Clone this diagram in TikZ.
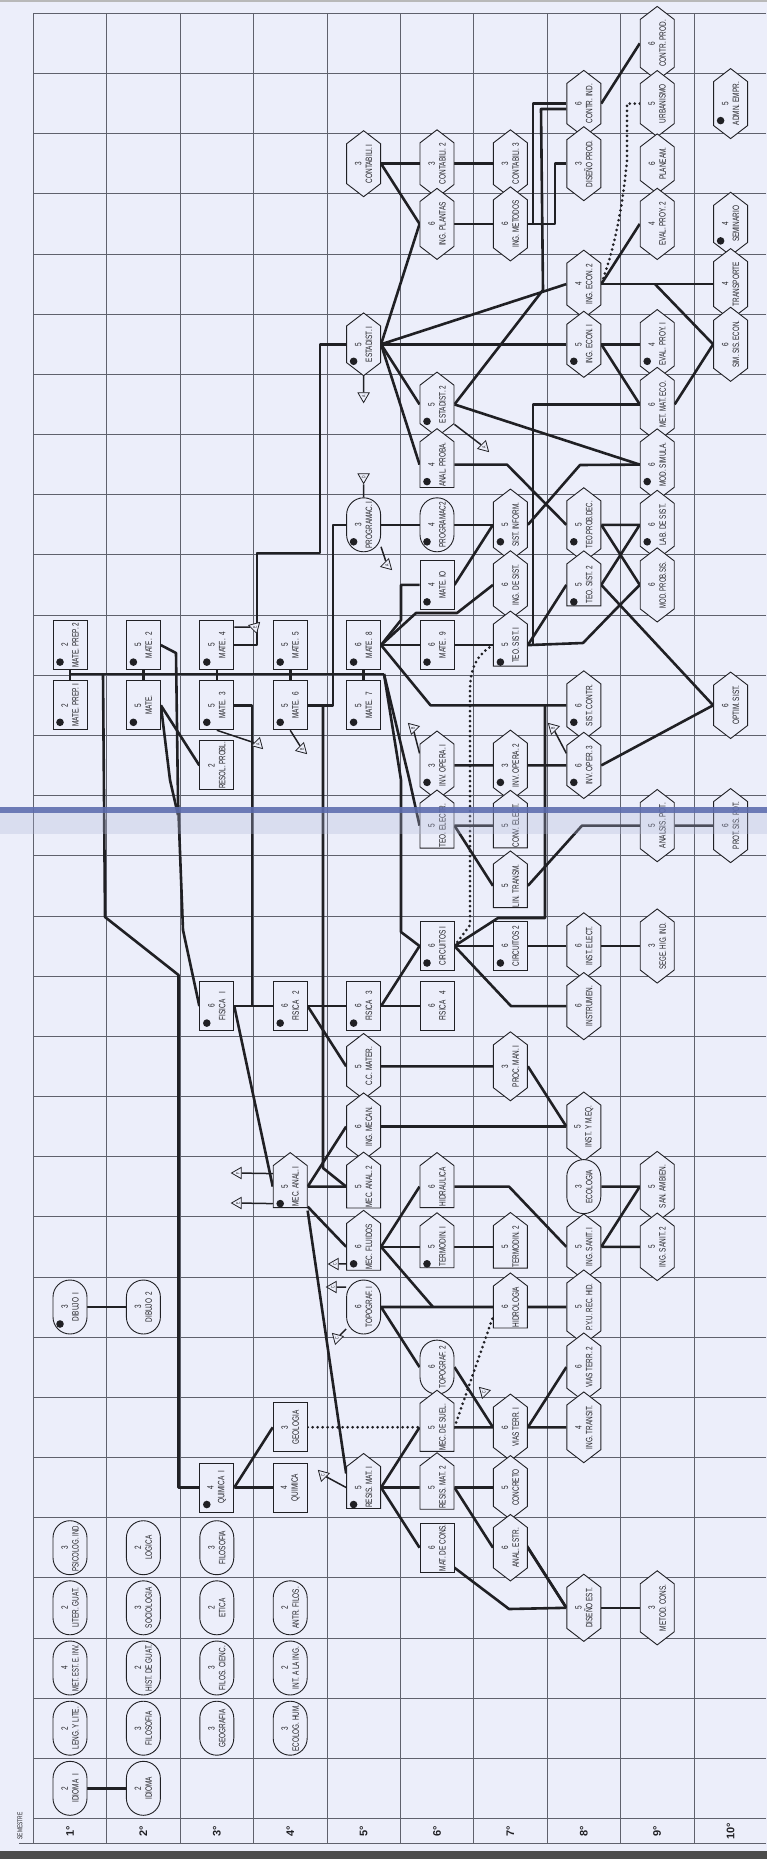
\documentclass[tikz,border=0pt]{standalone}
\usepackage{fontspec}
\setmainfont{Liberation Sans}
\newfontfamily\nodefont{Liberation Sans}[FakeStretch=0.7]
\usetikzlibrary{shapes.symbols,shapes.misc,shapes.geometric,calc}
\definecolor{bgc}{RGB}{236,238,250}
\definecolor{ink}{RGB}{32,32,36}
\definecolor{gridc}{RGB}{95,97,108}
\definecolor{stripec}{RGB}{95,110,175}
\definecolor{stripel}{RGB}{175,182,215}
\pgfdeclarelayer{grid}\pgfdeclarelayer{conn}
\pgfsetlayers{grid,conn,main}
\newsavebox\lblbox
\newcommand\fitw[1]{\sbox\lblbox{#1}\ifdim\wd\lblbox>47pt\resizebox{47pt}{\height}{\usebox\lblbox}\else\usebox\lblbox\fi}
\newcommand\cL[2]{#1\\\fitw{#2}}
\tikzset{
 crs/.style={draw=ink, line width=0.9pt, fill=bgc, rotate=90, align=center,
   font=\nodefont\fontsize{9.2}{10.8}\selectfont, text=ink, inner sep=0.5pt, minimum height=34pt},
 hexa/.style={crs, signal, signal to=east and west, signal pointer angle=105, minimum width=57pt},
 penta/.style={crs, signal, signal to=east, signal pointer angle=105, minimum width=55pt},
 rct/.style={crs, rectangle, minimum width=49pt},
 pill/.style={crs, rounded rectangle, minimum width=55pt},
 cn/.style={draw=ink, line width=2.6pt, line join=round},
 dotl/.style={draw=ink, line width=3pt, dash pattern=on 0pt off 5pt, line cap=round},
 mk/.style={regular polygon, regular polygon sides=3, draw=ink, fill=bgc, line width=0.8pt,
   inner sep=0pt, minimum size=13pt, rotate=90, font=\nodefont\fontsize{5}{5}\selectfont, text=ink},
 stem/.style={draw=ink, line width=1.5pt},
 seml/.style={rotate=90, font=\bfseries\fontsize{11}{11}\selectfont, text=ink},
}
\begin{document}
\begin{tikzpicture}[x=1pt,y=-1pt]
\useasboundingbox (0,0) rectangle (767,1859);
\begin{pgfonlayer}{grid}
\fill[bgc] (0,0) rectangle (767,1859);
\fill[gray!55] (0,0) rectangle (767,2.5);
\fill[gray!60!black] (0,1851) rectangle (767,1859);
\foreach \k in {0,...,10} \draw[gridc, line width=0.7pt] ({33.3+73.4*\k},13.3) -- ({33.3+73.4*\k},1843);
\foreach \k in {0,...,30} \draw[gridc, line width=0.7pt] (33.3,{13.3+60.17*\k}) -- (765.5,{13.3+60.17*\k});
\draw[gridc, line width=0.9pt] (19,1843) -- (765.5,1843);
\end{pgfonlayer}

% ---------- courses ----------
\node[hexa] (cprod) at (657.2,43.4) {\cL{6}{CONTR. PROD.}};
\node[hexa] (cind) at (583.8,103.6) {\cL{6}{CONTR. IND.}};
\node[hexa] (urb) at (657.2,103.6) {\cL{5}{URBANISMO}};
\node[hexa] (adm) at (730.6,103.6) {\cL{5}{ADMN. EMPR.}};
\node[hexa] (con1) at (363.6,163.7) {\cL{3}{CONTABILI. I}};
\node[hexa] (con2) at (437,163.7) {\cL{3}{CONTABILI. 2}};
\node[hexa] (con3) at (510.4,163.7) {\cL{3}{CONTABILI. 3}};
\node[hexa] (dprod) at (583.8,163.7) {\cL{3}{DISEÑO PROD.}};
\node[hexa] (plan) at (657.2,163.7) {\cL{6}{PLANEAM.}};
\node[hexa] (iplan) at (437,223.9) {\cL{6}{ING. PLANTAS}};
\node[hexa] (imet) at (510.4,223.9) {\cL{6}{ING. METODOS}};
\node[hexa] (ep2) at (657.2,223.9) {\cL{4}{EVAL. PROY. 2}};
\node[hexa] (sem) at (730.6,223.9) {\cL{4}{SEMINARIO}};
\node[hexa] (iec2) at (583.8,284.1) {\cL{4}{ING. ECON. 2}};
\node[hexa] (trans) at (730.6,284.1) {\cL{4}{TRANSPORTE}};
\node[hexa] (est1) at (363.6,344.3) {\cL{5}{ESTADIST. I}};
\node[hexa] (iec1) at (583.8,344.3) {\cL{5}{ING. ECON. I}};
\node[hexa] (ep1) at (657.2,344.3) {\cL{4}{EVAL. PROY. I}};
\node[hexa] (sse) at (730.6,344.3) {\cL{6}{SIM. SIS. ECON.}};
\node[hexa] (est2) at (437,404.4) {\cL{5}{ESTADIST. 2}};
\node[hexa] (mme) at (657.2,404.4) {\cL{6}{MET. MAT. ECO.}};
\node[penta] (aprob) at (437,464.6) {\cL{4}{ANAL. PROBA.}};
\node[hexa] (msim) at (657.2,464.6) {\cL{6}{MOD. SIMULA.}};
\node[pill] (prog1) at (363.6,524.8) {\cL{3}{PROGRAMAC. I}};
\node[pill] (prog2) at (437,524.8) {\cL{4}{PROGRAMAC2}};
\node[hexa] (sinf) at (510.4,524.8) {\cL{5}{SIST. INFORM.}};
\node[hexa] (tpd) at (583.8,524.8) {\cL{5}{TEO.PROB.DEC.}};
\node[hexa] (lab) at (657.2,524.8) {\cL{6}{LAB. DE SIST.}};
\node[rct] (mio) at (437,584.9) {\cL{4}{MATE. IO}};
\node[hexa] (isis) at (510.4,584.9) {\cL{6}{ING. DE SIST.}};
\node[penta] (ts2) at (583.8,584.9) {\cL{5}{TEO. SIST. 2}};
\node[hexa] (mps) at (657.2,584.9) {\cL{6}{MOD. PROB.SIS.}};
\node[rct] (mp2) at (70,645.1) {\cL{2}{MATE. PREP. 2}};
\node[rct] (m2) at (143.4,645.1) {\cL{5}{MATE.~~2}};
\node[rct] (m4) at (216.8,645.1) {\cL{5}{MATE.~~4}};
\node[rct] (m5) at (290.2,645.1) {\cL{5}{MATE.~~5}};
\node[rct] (m8) at (363.6,645.1) {\cL{6}{MATE.~~8}};
\node[rct] (m9) at (437,645.1) {\cL{6}{MATE.~~9}};
\node[penta] (ts1) at (510.4,645.1) {\cL{5}{TEO. SIST. I}};
\node[rct] (mp1) at (70,705.3) {\cL{2}{MATE. PREP. I}};
\node[rct] (m1) at (143.4,705.3) {\cL{5}{MATE.}};
\node[rct] (m3) at (216.8,705.3) {\cL{5}{MATE.~~3}};
\node[rct] (m6) at (290.2,705.3) {\cL{5}{MATE.~~6}};
\node[rct] (m7) at (363.6,705.3) {\cL{5}{MATE.~~7}};
\node[hexa] (scon) at (583.8,705.3) {\cL{6}{SIST. CONTR.}};
\node[hexa] (opt) at (730.6,705.3) {\cL{6}{OPTIM. SIST.}};
\node[rct] (resol) at (216.8,765.4) {\cL{2}{RESOL. PROBL.}};
\node[hexa] (io1) at (437,765.4) {\cL{3}{INV. OPERA. I}};
\node[hexa] (io2) at (510.4,765.4) {\cL{3}{INV. OPERA. 2}};
\node[hexa] (io3) at (583.8,765.4) {\cL{6}{INV. OPER. 3}};
\node[penta] (tel) at (437,825.6) {\cL{5}{TEO. ELECTR.}};
\node[penta] (cel) at (510.4,825.6) {\cL{5}{CONV. ELECT.}};
\node[hexa] (apot) at (657.2,825.6) {\cL{5}{ANALSIS. POT.}};
\node[hexa] (ppot) at (730.6,825.6) {\cL{6}{PROT. SIS. POT.}};
\node[penta] (lin) at (510.4,885.8) {\cL{5}{LIN. TRANSM.}};
\node[rct] (cir1) at (437,946) {\cL{6}{CIRCUITOS I}};
\node[rct] (cir2) at (510.4,946) {\cL{6}{CIRCUITOS 2}};
\node[hexa] (iel) at (583.8,946) {\cL{6}{INST. ELECT.}};
\node[hexa] (seg) at (657.2,946) {\cL{3}{SEGE. HIG. IND.}};
\node[rct] (f1) at (216.8,1006.1) {\cL{6}{FISICA~~~I}};
\node[rct] (f2) at (290.2,1006.1) {\cL{6}{FISICA~~~2}};
\node[rct] (f3) at (363.6,1006.1) {\cL{6}{FISICA~~~3}};
\node[rct] (f4) at (437,1006.1) {\cL{6}{FISICA~~~4}};
\node[hexa] (instr) at (583.8,1006.1) {\cL{6}{INSTRUMEN.}};
\node[hexa] (ccm) at (363.6,1066.3) {\cL{5}{C.C. MATER.}};
\node[hexa] (pman) at (510.4,1066.3) {\cL{3}{PROC. MAN. I}};
\node[hexa] (imec) at (363.6,1126.5) {\cL{6}{ING. MECAN.}};
\node[hexa] (iyme) at (583.8,1126.5) {\cL{5}{INST. Y M.EQ.}};
\node[penta] (ma1) at (290.2,1186.6) {\cL{5}{MEC. ANAL. I}};
\node[penta] (ma2) at (363.6,1186.6) {\cL{5}{MEC. ANAL. 2}};
\node[penta] (hidra) at (437,1186.6) {\cL{6}{HIDRAULICA}};
\node[pill] (eco) at (583.8,1186.6) {\cL{3}{ECOLOGIA}};
\node[hexa] (san) at (657.2,1186.6) {\cL{5}{SAN. AMBIEN.}};
\node[penta] (mfl) at (363.6,1246.8) {\cL{6}{MEC. FLUIDOS}};
\node[penta] (td1) at (437,1246.8) {\cL{5}{TERMODIN. I}};
\node[penta] (td2) at (510.4,1246.8) {\cL{5}{TERMODIN. 2}};
\node[hexa] (isan1) at (583.8,1246.8) {\cL{5}{ING. SANIT. I}};
\node[hexa] (isan2) at (657.2,1246.8) {\cL{5}{ING. SANIT. 2}};
\node[pill] (dib1) at (70,1307) {\cL{3}{DIBUJO~~I}};
\node[pill] (dib2) at (143.4,1307) {\cL{3}{DIBUJO~~2}};
\node[pill] (top1) at (363.6,1307) {\cL{6}{TOPOGRAF. I}};
\node[penta] (hidro) at (510.4,1307) {\cL{6}{HIDROLOGIA}};
\node[hexa] (pyu) at (583.8,1307) {\cL{5}{P.Y.U. REC. HID.}};
\node[pill] (top2) at (437,1367.1) {\cL{6}{TOPOGRAF. 2}};
\node[hexa] (vt2) at (583.8,1367.1) {\cL{6}{VIAS TERR. 2}};
\node[rct] (geo) at (290.2,1427.3) {\cL{3}{GEOLOGIA}};
\node[penta] (msuel) at (437,1427.3) {\cL{5}{MEC. DE SUEL.}};
\node[hexa] (vt1) at (510.4,1427.3) {\cL{6}{VIAS TERR. I}};
\node[hexa] (itr) at (583.8,1427.3) {\cL{4}{ING. TRANSIT.}};
\node[rct] (q1) at (216.8,1487.5) {\cL{4}{QUIMICA~~I}};
\node[rct] (q) at (290.2,1487.5) {\cL{4}{QUIMICA}};
\node[penta] (rm1) at (363.6,1487.5) {\cL{5}{RESIS. MAT. I}};
\node[penta] (rm2) at (437,1487.5) {\cL{5}{RESIS. MAT. 2}};
\node[hexa] (conc) at (510.4,1487.5) {\cL{5}{CONCRETO}};
\node[pill] (psi) at (70,1547.7) {\cL{3}{PSICOLOG. IND.}};
\node[pill] (logi) at (143.4,1547.7) {\cL{2}{LOGICA}};
\node[pill] (fil3) at (216.8,1547.7) {\cL{3}{FILOSOFIA}};
\node[rct] (mcons) at (437,1547.7) {\cL{6}{MAT. DE CONS.}};
\node[hexa] (aestr) at (510.4,1547.7) {\cL{6}{ANAL. ESTR.}};
\node[pill] (lit) at (70,1607.8) {\cL{2}{LITER. GUAT.}};
\node[pill] (soc) at (143.4,1607.8) {\cL{3}{SOCIOLOGIA}};
\node[pill] (eti) at (216.8,1607.8) {\cL{2}{ETICA}};
\node[pill] (antr) at (290.2,1607.8) {\cL{2}{ANTR. FILOS.}};
\node[hexa] (dest) at (583.8,1607.8) {\cL{5}{DISEÑO EST.}};
\node[hexa] (mcon) at (657.2,1607.8) {\cL{3}{METOD. CONS.}};
\node[pill] (met) at (70,1668) {\cL{4}{MET. EST. E. INV.}};
\node[pill] (hist) at (143.4,1668) {\cL{2}{HIST. DE GUAT.}};
\node[pill] (fcien) at (216.8,1668) {\cL{3}{FILOS. CIENC.}};
\node[pill] (inti) at (290.2,1668) {\cL{2}{INT. A LA ING.}};
\node[pill] (leng) at (70,1728.2) {\cL{2}{LENG. Y LITE.}};
\node[pill] (fil2) at (143.4,1728.2) {\cL{3}{FILOSOFIA}};
\node[pill] (geog) at (216.8,1728.2) {\cL{3}{GEOGRAFIA}};
\node[pill] (ecoh) at (290.2,1728.2) {\cL{3}{ECOLOG. HUM.}};
\node[pill] (id1) at (70,1788.3) {\cL{2}{IDIOMA~~I}};
\node[pill] (id2) at (143.4,1788.3) {\cL{2}{IDIOMA}};

% dots
\foreach \n in {adm,sem,est1,iec1,ep1,est2,aprob,msim,prog1,prog2,sinf,tpd,lab,mio,ts2,mp2,m2,m4,m5,m8,m9,ts1,mp1,m1,m3,m6,m7,scon,io1,io2,io3,cir1,cir2,f1,f2,f3,ma1,mfl,td1,dib1,q1,rm1}
  \fill[ink] ($(\n.center)+(-10,17)$) circle (3.8);

% markers
\node[mk, shape border rotate=90] (k1) at (363.6,396) {A};
\node[mk, shape border rotate=135] (k2) at (484,447) {A};
\node[mk, shape border rotate=90] (k3) at (363.6,477) {D};
\node[mk, shape border rotate=135] (k4) at (387,565) {A};
\node[mk, shape border rotate=225] (k5) at (255,627) {E};
\node[mk, shape border rotate=135] (k6) at (258,744) {A};
\node[mk, shape border rotate=135] (k7) at (302,749) {B};
\node[mk, shape border rotate=315] (k8) at (413,728) {B};
\node[mk, shape border rotate=315] (k9) at (553,728) {B};
\node[mk, shape border rotate=0] (k10) at (238,1173) {F};
\node[mk, shape border rotate=0] (k11) at (238,1203) {E};
\node[mk, shape border rotate=0] (k12) at (335,1264) {C};
\node[mk, shape border rotate=0] (k13) at (333,1287) {C};
\node[mk, shape border rotate=315] (k14) at (337,1338) {C};
\node[mk, shape border rotate=315] (k15) at (484,1392) {C};
\node[mk, shape border rotate=315] (k16) at (323,1475) {C};

% semester labels
\foreach \s/\x in {1/70,2/143.4,3/216.8,4/290.2,5/363.6,6/437,7/510.4,8/583.8,9/657.2,10/730.6}
  \node[seml] (sl\s) at (\x,1831) {\s°};
\node[rotate=90, font=\nodefont\fontsize{7}{7}\selectfont, text=ink] (semt) at (20,1826) {SEMESTRE};

% ---------- connectors ----------
\begin{pgfonlayer}{conn}
\coordinate (k109) at (0,109);
\coordinate (jt) at (655,284.1);
\coordinate (busL) at (70,674);
\coordinate (busR) at (384,674);
\coordinate (bq) at (103,674);
\draw[cn] (cind.south) -- (cprod.north);
\draw[cn] (con1.south) -- (con2.north) (con2.south) -- (con3.north);
\draw[cn] (con1.south) -- (iplan.north);
\draw[cn] (iplan.south) -- (imet.north);
\draw[cn] (imet.south) -- (555,223.9) |- (dprod.north);
\draw[cn] (imet.south) -- (533,223.9) |- (cind.north);
\draw[cn] (est2.south) -- (543,290) -- (541,109) -- (cind.north |- k109);
\draw[cn] (est1.south) -- (iec2.north);
\draw[cn] (est1.south) -- (iplan.north);
\draw[cn] (iec2.south) -- (ep2.north);
\draw[cn] (iec2.south) -- (trans.north);
\draw[cn] (jt) -- (sse.north);
\draw[cn] (est1.south) -- (iec1.north) (iec1.south) -- (ep1.north);
\draw[cn] (iec1.south) -- (mme.north);
\draw[cn] (mme.south) -- (sse.north);
\draw[cn] (est2.south) -- (msim.north);
\draw[cn] (est1.south) -- (est2.north);
\draw[cn] (est1.south) -- (aprob.north);
\draw[cn] (est1.north) -- (320,344.3) -- (320,553) -- (257,553) |- (m4.south);
\draw[dotl] (urb.north) -- (627,103.6) -- (627,160) .. controls (622,215) and (612,255) .. (iec2.south);
\draw[cn] (aprob.south) -- (507,464.6) -- (tpd.north);
\draw[cn] (sinf.south) -- (580,465) -- (msim.north);
\draw[cn] (ts1.south) -- (533,645.1) -- (533,404.4) -- (mme.north);
\draw[cn] (prog1.south) -- (prog2.north) (prog2.south) -- (sinf.north);
\draw[cn] (m6.south) -- (333,705.3) -- (333,524.8) -- (prog1.north);
\draw[cn] (m6.south) -- (323,705.3) -- (323,1168) -- (ma2.north);
\draw[cn] (busL) -- (busR);
\draw[cn] (mp2) -- (mp1) (m2) -- (m1) (m4) -- (m3) (m5) -- (m6) (m8) -- (m7);
\draw[cn] (busR) -- (401,780) -- (401,932) -- (cir1.north);
\draw[cn] (busR) -- (409,778) -- (tel.north);
\draw[cn] (m2.south) -- (176,653) -- (178,800) -- (183,930) -- (f1.north);
\draw[cn] (m1.south) -- (170,780) -- (178,815);
\draw[cn] (m1.south) -- (resol.north);
\draw[cn] (bq) -- (105,917) -- (178.5,975) |- (q1.north);
\draw[cn] (q1.south) -- (q.north) (q1.south) -- (geo.north);
\draw[dotl] (geo.south) -- (msuel.north);
\draw[cn] (rm1.south) -- (rm2.north) (rm1.south) -- (msuel.north) (rm2.south) -- (conc.north);
\draw[cn] (msuel.south) -- (vt1.north) (vt1.south) -- (itr.north) (vt1.south) -- (vt2.north);
\draw[cn] (rm1.south) -- (mcons.north) (rm2.south) -- (aestr.north);
\draw[cn] ($(mcons.south)+(0,20)$) -- (509,1609) -- (dest.north);
\draw[cn] (aestr.south) -- (dest.north);
\draw[cn] (conc.west) -- (dest.north);
\draw[cn] (dest.south) -- (mcon.north);
\draw[cn] (ma1.south) -- (ma2.north) (ma1.south) -- (imec.north) (imec.south) -- (iyme.north);
\draw[cn] (pman.south) -- (iyme.north) (ccm.south) -- (pman.north);
\draw[cn] (f1.south) -- (f2.north) (f2.south) -- (f3.north) (f3.south) -- (f4.north);
\draw[cn] (f2.south) -- (ccm.north) (f3.south) -- (cir1.north) (f1.south) -- (ma1.north);
\draw[cn] (m3.south) -- (252,705.3) -- (252,1006.1);
\draw[cn] (cir1.south) -- (cir2.north) (cir2.south) -- (iel.north) (iel.south) -- (seg.north);
\draw[cn] (cir1.south) -- (511,1006.1) -- (instr.north);
\draw[cn] (cir1.south) -- (498,918) -- (545,918) -- (545,705.3);
\draw[cn] (m8.south) -- (430.5,705.3) -- (scon.north);
\draw[cn] (m8.south) -- (m9.north) (m9.south) -- (ts1.north);
\draw[cn] (m8.south) -- (401,620) -- (401,584.9) -- (mio.north);
\draw[cn] (m8.south) -- (416,613) -- (457,613) -- (isis.north);
\draw[cn] (mio.south) -- (sinf.north);
\draw[cn] (ts1.south) -- (583,643) -- (615,610) -- (mps.north);
\draw[cn] (ts1.south) -- (ts2.north);
\draw[cn] (tpd.south) -- (lab.north) (tpd.south) -- (mps.north) (ts2.south) -- (lab.north) (ts2.south) -- (opt.north);
\draw[cn] (io1.south) -- (io2.north) (io2.south) -- (io3.north) (io3.south) -- (opt.north);
\draw[cn] (tel.south) -- (cel.north) (tel.south) -- (lin.north);
\draw[cn] (lin.south) -- (582,825.6) -- (apot.north) (apot.south) -- (ppot.north);
\draw[dotl] (cir1.south) -- (470,925) -- (470,690) .. controls (470,662) and (482,652) .. (ts1.north);
\draw[cn] (mfl.south) -- (td1.north) (td1.south) -- (td2.north);
\draw[cn] ($(ma1.south)+(0,20)$) -- (mfl.north);
\draw[cn] ($(ma1.south)+(0,24)$) -- ($(rm1.north)+(0,-14)$);
\draw[cn] (mfl.south) -- (hidra.north);
\draw[cn] (hidra.south) -- (509,1186.6) -- (isan1.north);
\draw[cn] (eco.south) -- (san.north) (isan1.south) -- (san.north) (isan1.south) -- (isan2.north);
\draw[cn] (mfl.south) -- (433,1307);
\draw[cn] (top1.south) -- (hidro.north) (hidro.south) -- (pyu.north) (top1.south) -- (top2.north) (top2.south) -- (vt1.north);
\draw[dotl] (msuel.south) -- ($(hidro.north)+(0,10)$);
\draw[cn] (dib1.south) -- (dib2.north) (id1.south) -- (id2.north);
% marker stems
\draw[stem] (est1.west) -- (k1);
\draw[stem] ($(est2.south)+(0,20)$) -- (k2);
\draw[stem] (prog1.east) -- (k3);
\draw[stem] ($(prog1.south)+(0,22)$) -- (k4);
\draw[stem] ($(m4.south)+(0,-18)$) -- (k5);
\draw[stem] (m3.west) -- (k6);
\draw[stem] (m6.west) -- (k7);
\draw[stem] ($(io1.north)+(0,-12)$) -- (k8);
\draw[stem] ($(io3.north)+(0,-12)$) -- (k9);
\draw[stem] ($(ma1.north)+(0,-13)$) -- (k10);
\draw[stem] ($(ma1.north)+(0,17)$) -- (k11);
\draw[stem] ($(mfl.north)+(0,17)$) -- (k12);
\draw[stem] ($(top1.north)+(0,-20)$) -- (k13);
\draw[stem] ($(top1.north)+(0,22)$) -- (k14);
\draw[stem] (rm1.north) -- (k16);
\end{pgfonlayer}

% scan fold stripe
\fill[stripel, opacity=0.3] (0,813) rectangle (767,834);
\fill[stripec, opacity=0.9] (0,807) rectangle (767,813);
\end{tikzpicture}
\end{document}
